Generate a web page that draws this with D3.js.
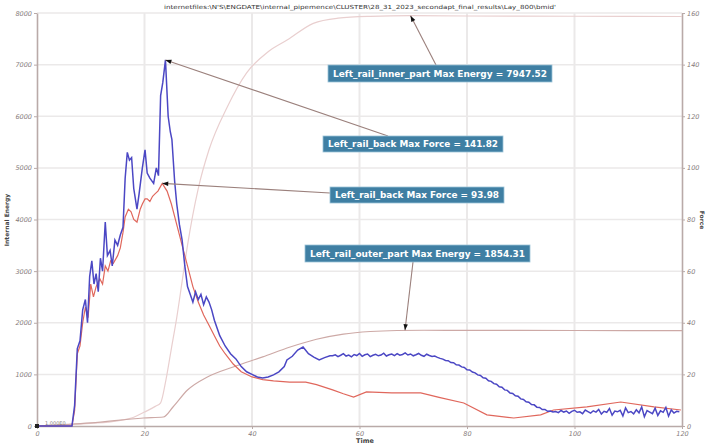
<!DOCTYPE html>
<html>
<head>
<meta charset="utf-8">
<script src="https://cdn.jsdelivr.net/npm/d3@7"></script>
<style>
  html, body { margin: 0; padding: 0; background: #fff; }
  svg { display: block; }
  text { font-family: "DejaVu Sans", sans-serif; }
</style>
</head>
<body>
<svg id="chart" width="706" height="448"></svg>
<script>
// ---- data ----
const titleText = "internetfiles:\\N'S\\ENGDATE\\internal_pipemence\\CLUSTER\\28_31_2023_secondapt_final_results\\Lay_800\\bmid'";
const timeTicks = [0, 20, 40, 60, 80, 100, 120];
const energyTicks = [0, 1000, 2000, 3000, 4000, 5000, 6000, 7000, 8000];
const forceTicks = [0, 20, 40, 60, 80, 100, 120, 140, 160];

// Left_rail_back force (blue)
const blueTime = [0, 6.5, 7.0, 7.5, 8.0, 8.5, 9.0, 9.4, 9.8, 10.2, 10.6, 11.0, 11.4, 11.8, 12.2, 12.7, 13.1, 13.6, 14.0, 14.5, 15.0, 15.5, 16.0, 16.4, 16.8, 17.2, 17.6, 18.0, 18.6, 19.0, 19.6, 20.1, 20.5, 21.0, 21.7, 22.2, 22.6, 23.0, 23.4, 23.9, 24.4, 24.8, 25.1, 25.6, 26.0, 26.5, 27.0, 27.5, 28.0, 28.5, 29.0, 29.5, 30.0, 30.5, 31.0, 31.5, 32.0, 32.5, 33.0, 34.0, 35.0, 36.0, 37.0, 38.0, 39.0, 40.0, 41.0, 42.0, 43.0, 44.0, 45.0, 46.0, 46.5, 47.5, 48.5, 49.5, 50.5, 51.5, 52.5, 53.5, 54.5];
const blueForce = [0, 0, 8, 30, 33, 45, 49, 40, 58, 64, 55, 59, 52, 65, 60, 79, 66, 68, 62, 72, 70, 74, 77, 96, 106, 103, 104, 92, 84, 90, 100, 107, 98, 96, 94, 100, 97, 128, 133, 141.82, 120, 114, 111, 95, 86, 78, 72, 62, 54, 51, 48, 52, 49, 51, 47, 50, 48, 45, 41, 35, 31, 28, 26, 23, 21, 20, 19, 18.6, 19, 19.8, 21, 23, 25.6, 27, 29.4, 30.6, 28, 26.7, 25.6, 26.5, 27.2];
// plateau 55..75 s and decay 75.5..96 s, sampled every 0.5 s
const blueMid = [27.2, 27.6, 26.9, 27.4, 28.0, 27.1, 27.5, 26.8, 27.7, 27.3, 28.1, 27.0, 27.6, 27.9, 26.9, 27.4, 27.8, 27.2, 27.5, 28.2, 27.1, 27.6, 27.9, 27.3, 28.0, 27.4, 27.7, 28.3, 27.5, 27.9, 27.2, 27.6, 28.1, 27.4, 27.0, 27.8, 27.3, 26.9, 27.1, 26.6, 26.2];
const blueDecay = [25.9, 25.4, 25.3, 24.6, 24.5, 23.7, 23.6, 22.9, 22.7, 21.8, 21.7, 20.9, 20.6, 19.8, 19.6, 18.7, 18.5, 17.5, 17.3, 16.4, 16.2, 15.2, 15.0, 14.0, 13.8, 12.8, 12.6, 11.7, 11.5, 10.5, 10.3, 9.4, 9.2, 8.3, 8.2, 7.3, 7.2, 6.4, 6.4, 5.7, 5.8, 5.4];
// residual 96.5..120 s, sampled every 0.5 s
const blueTail = [5.6, 5.2, 6.0, 5.4, 5.8, 4.9, 5.7, 6.1, 5.3, 5.5, 4.8, 6.2, 5.6, 5.0, 5.9, 5.4, 6.4, 4.6, 5.7, 5.3, 6.8, 4.2, 5.8, 5.5, 6.1, 3.9, 7.0, 5.2, 5.6, 4.7, 6.3, 5.1, 7.4, 3.6, 6.0, 5.4, 4.8, 6.9, 4.1, 5.9, 5.3, 7.2, 3.8, 6.2, 5.0, 5.7, 5.5];

// Left_rail_back force (red)
const redTime = [0, 6.5, 7.0, 7.5, 8.0, 8.5, 9.0, 9.5, 10.0, 10.5, 11.0, 11.7, 12.2, 12.7, 13.2, 13.7, 14.2, 15.0, 15.5, 16.0, 16.4, 17.0, 17.5, 18.0, 18.6, 19.2, 19.6, 20.1, 20.5, 21.0, 21.5, 22.0, 22.5, 23.3, 24.2, 25.0, 26.0, 27.0, 28.0, 29.0, 30.0, 31.0, 32.0, 33.0, 34.0, 35.0, 36.5, 38, 40, 42, 44, 47, 50, 52, 55, 57, 58.9, 61.3, 66, 71.4, 75, 79.4, 83.7, 88.7, 93.7, 96.1, 102.3, 108.6, 114.8, 119.8];
const redForce = [0, 0, 6, 28, 31, 40, 46, 42, 55, 50, 54, 57, 55, 62, 60, 64, 63, 66, 69, 75, 81, 84, 83, 80, 79, 84, 86, 88, 88, 87, 89, 90, 91, 93.98, 91, 86, 78, 70, 62, 54, 48, 43, 39, 35, 31, 28, 24, 21, 19, 18, 17.5, 17, 17, 16, 14, 12.5, 11.2, 13.2, 12.8, 12.8, 11, 8.9, 4.3, 3.1, 4.3, 6.2, 7.4, 9.3, 7.4, 6.2];

// Left_rail_inner_part internal energy
const innerTime = [0, 5, 10, 15, 18, 20, 22, 23, 24, 25, 26, 27, 28, 30, 32, 35.4, 39, 43, 46.6, 51.4, 56, 62, 69.5, 80, 100, 120];
const innerEnergy = [0, 20, 50, 100, 170, 270, 380, 450, 900, 1500, 2100, 2800, 3500, 4600, 5350, 6180, 6840, 7250, 7480, 7800, 7900, 7935, 7947.52, 7942, 7937, 7932];

// Left_rail_outer_part internal energy
const outerTime = [0, 10, 19.8, 23.5, 25.3, 28, 31.7, 36.5, 42, 47.1, 52, 57, 62, 67, 72, 80, 100, 120];
const outerEnergy = [0, 60, 155, 174, 368, 697, 950, 1143, 1340, 1530, 1680, 1780, 1830, 1850, 1854.31, 1852, 1850, 1848];

// ---- assemble series ----
const zip = (ts, vs) => ts.map((t, i) => [t, vs[i]]);
const blueData = zip(blueTime, blueForce)
  .concat(blueMid.map((v, i) => [55 + i * 0.5, v]))
  .concat(blueDecay.map((v, i) => [75.5 + i * 0.5, v]))
  .concat(blueTail.map((v, i) => [96.5 + i * 0.5, v]));
const redData = zip(redTime, redForce);
const innerData = zip(innerTime, innerEnergy);
const outerData = zip(outerTime, outerEnergy);

// ---- layout ----
const svg = d3.select("#chart");
const x = d3.scaleLinear().domain([0, 120]).range([37, 682]);
const yE = d3.scaleLinear().domain([0, 8000]).range([426, 13]);
const yF = d3.scaleLinear().domain([0, 160]).range([426, 13]);

// grid
const grid = svg.append("g");
grid.selectAll("line.h").data(energyTicks.slice(1)).join("line")
  .attr("x1", 37).attr("x2", 682)
  .attr("y1", d => yE(d)).attr("y2", d => yE(d))
  .attr("stroke", "#ebe9e9").attr("stroke-width", 1.5);
grid.selectAll("line.v").data(timeTicks.slice(1, -1)).join("line")
  .attr("x1", d => x(d)).attr("x2", d => x(d))
  .attr("y1", 13).attr("y2", 426)
  .attr("stroke", "#ebe9e9").attr("stroke-width", 2);

// axes
const fmt = d3.format("d");
function styleAxis(g) {
  g.select(".domain").attr("stroke", "#b9aaa8").attr("stroke-width", 1.6);
  g.selectAll(".tick line").attr("stroke", "#b9aaa8");
  g.selectAll(".tick text").attr("fill", "#857a7a").attr("font-size", 6.5).attr("font-style", "italic");
}
svg.append("g").attr("transform", "translate(37,0)")
  .call(d3.axisLeft(yE).tickValues(energyTicks).tickFormat(fmt).tickSize(3).tickSizeOuter(0).tickPadding(2))
  .call(styleAxis);
svg.append("g").attr("transform", "translate(682,0)")
  .call(d3.axisRight(yF).tickValues(forceTicks).tickFormat(fmt).tickSize(3).tickSizeOuter(0).tickPadding(2))
  .call(styleAxis);
svg.append("g").attr("transform", "translate(0,426)")
  .call(d3.axisBottom(x).tickValues(timeTicks).tickFormat(fmt).tickSize(3).tickSizeOuter(0).tickPadding(2))
  .call(styleAxis);

// axis titles
svg.append("text").attr("transform", "translate(9,220) rotate(-90)")
  .attr("text-anchor", "middle").attr("font-size", 6).attr("font-weight", "bold")
  .attr("fill", "#444").text("Internal Energy");
svg.append("text").attr("transform", "translate(700,220) rotate(90)")
  .attr("text-anchor", "middle").attr("font-size", 6).attr("font-weight", "bold")
  .attr("fill", "#444").text("Force");
svg.append("text").attr("x", 365).attr("y", 443)
  .attr("text-anchor", "middle").attr("font-size", 6.5).attr("font-weight", "bold")
  .attr("fill", "#444").text("Time");
svg.append("text").attr("x", 360).attr("y", 9)
  .attr("text-anchor", "middle").attr("font-size", 5.6)
  .attr("fill", "#333").attr("textLength", 392).attr("lengthAdjust", "spacingAndGlyphs")
  .text(titleText);

// curves
const lineF = d3.line().x(d => x(d[0])).y(d => yF(d[1]));
const curveE = d3.line().curve(d3.curveMonotoneX).x(d => x(d[0])).y(d => yE(d[1]));

svg.append("path").datum(innerData).attr("d", curveE)
  .attr("fill", "none").attr("stroke", "#e9cfcf").attr("stroke-width", 1.2);
svg.append("path").datum(outerData).attr("d", curveE)
  .attr("fill", "none").attr("stroke", "#cda9a6").attr("stroke-width", 1.2);
svg.append("path").datum(redData).attr("d", lineF)
  .attr("fill", "none").attr("stroke", "#e0675c").attr("stroke-width", 1.2);
svg.append("path").datum(blueData).attr("d", lineF)
  .attr("fill", "none").attr("stroke", "#4b47c4").attr("stroke-width", 1.5);

// origin cursor
svg.append("rect").attr("x", x(0) - 2).attr("y", yE(0) - 2).attr("width", 4).attr("height", 4).attr("fill", "#222");
svg.append("text").attr("x", x(0) + 8).attr("y", yE(0) - 1)
  .attr("font-size", 5).attr("fill", "#8a7f7f").text("1.000E0");

// annotations: box + leader to each maximum
const peak = data => data.reduce((m, d) => (d[1] > m[1] ? d : m));
const innerPk = peak(innerData), bluePk = peak(blueData), redPk = peak(redData), outerPk = peak(outerData);

const notes = [
  { label: "Left_rail_inner_part Max Energy = " + innerPk[1].toFixed(2), box: [328, 65, 224, 17],
    from: [436, 65], to: [x(innerPk[0]), yE(innerPk[1])] },
  { label: "Left_rail_back Max Force = " + bluePk[1].toFixed(2), box: [323, 136, 180, 16],
    from: [388, 136], to: [x(bluePk[0]), yF(bluePk[1])] },
  { label: "Left_rail_back Max Force = " + redPk[1].toFixed(2), box: [330, 187, 174, 16],
    from: [330, 193], to: [x(redPk[0]), yF(redPk[1])] },
  { label: "Left_rail_outer_part Max Energy = " + outerPk[1].toFixed(2), box: [305, 245, 225, 17],
    from: [413, 262], to: [405, yE(outerPk[1])] }
];

const ann = svg.append("g");
notes.forEach(n => {
  const [fx, fy] = n.from, [tx, ty] = n.to;
  ann.append("line").attr("x1", fx).attr("y1", fy).attr("x2", tx).attr("y2", ty)
    .attr("stroke", "#9b807c").attr("stroke-width", 1.1);
  const ang = Math.atan2(ty - fy, tx - fx) * 180 / Math.PI;
  ann.append("path").attr("d", "M0,0 L-6,-2.2 L-6,2.2 Z")
    .attr("transform", `translate(${tx},${ty}) rotate(${ang})`).attr("fill", "#111");
  const [bx, by, bw, bh] = n.box;
  ann.append("rect").attr("x", bx).attr("y", by).attr("width", bw).attr("height", bh)
    .attr("fill", "#3f7fa3").attr("stroke", "#9cc3d8").attr("stroke-width", 0.8);
  ann.append("text").attr("x", bx + bw / 2).attr("y", by + bh / 2 + 3)
    .attr("text-anchor", "middle").attr("font-size", 8).attr("font-weight", "bold")
    .attr("fill", "#fff").attr("textLength", bw - 10).attr("lengthAdjust", "spacingAndGlyphs")
    .text(n.label);
});
</script>
</body>
</html>
